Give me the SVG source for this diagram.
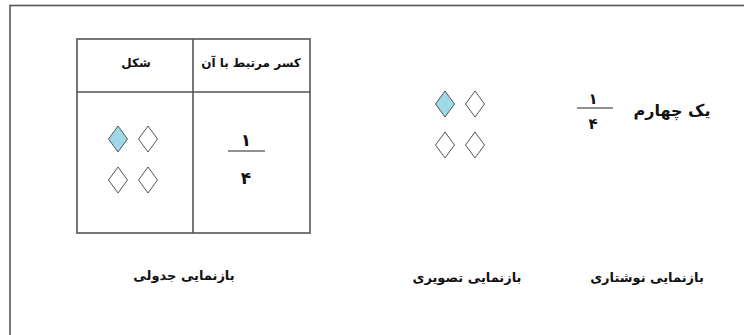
<svg xmlns="http://www.w3.org/2000/svg" width="744" height="335" viewBox="0 0 744 335">
<style>
.ln{stroke:#555;stroke-width:1.6;fill:none}
.d{fill:#fff;stroke:#555;stroke-width:1}
.d.f{fill:#9fd8e6}
.t{font-family:"DejaVu Sans",sans-serif;font-weight:bold;fill:#111;text-anchor:middle;direction:rtl}
.n{font-family:"DejaVu Sans",sans-serif;font-weight:bold;fill:#111;text-anchor:middle}
.fl{stroke:#222;stroke-width:1.2}
</style>
<defs>
<path id="dm" d="M0,-13 L9.5,0 L0,13 L-9.5,0 Z"/>
</defs>
<rect x="10" y="5.5" width="740" height="340" class="ln"/>
<g id="table">
<rect x="77" y="39" width="233" height="194" class="ln"/>
<line x1="77" y1="92" x2="310" y2="92" class="ln"/>
<line x1="193" y1="39" x2="193" y2="233" class="ln"/>
<text x="251" y="67" class="t" font-size="12">کسر مرتبط با آن</text>
<text x="136" y="67" class="t" font-size="12">شکل</text>
<use href="#dm" x="118" y="139" class="d f"/>
<use href="#dm" x="148" y="139" class="d"/>
<use href="#dm" x="118" y="180" class="d"/>
<use href="#dm" x="148" y="180" class="d"/>
<text x="246" y="146" class="n" font-size="17">١</text>
<line x1="228" y1="151" x2="265" y2="151" class="fl"/>
<text x="246" y="184" class="n" font-size="17">۴</text>
</g>
<g id="picture">
<use href="#dm" x="445" y="104" class="d f"/>
<use href="#dm" x="475" y="104" class="d"/>
<use href="#dm" x="445" y="145" class="d"/>
<use href="#dm" x="475" y="145" class="d"/>
</g>
<g id="written">
<text x="593" y="104" class="n" font-size="15">١</text>
<line x1="577" y1="108" x2="613" y2="108" class="fl"/>
<text x="593" y="129" class="n" font-size="15">۴</text>
<text x="672" y="116" class="t" font-size="16">یک چهارم</text>
</g>
<g id="labels">
<text x="184" y="280" class="t" font-size="13">بازنمایی جدولی</text>
<text x="467" y="282" class="t" font-size="13">بازنمایی تصویری</text>
<text x="647" y="282" class="t" font-size="13">بازنمایی نوشتاری</text>
</g>
<g id="connectors"></g>
</svg>
